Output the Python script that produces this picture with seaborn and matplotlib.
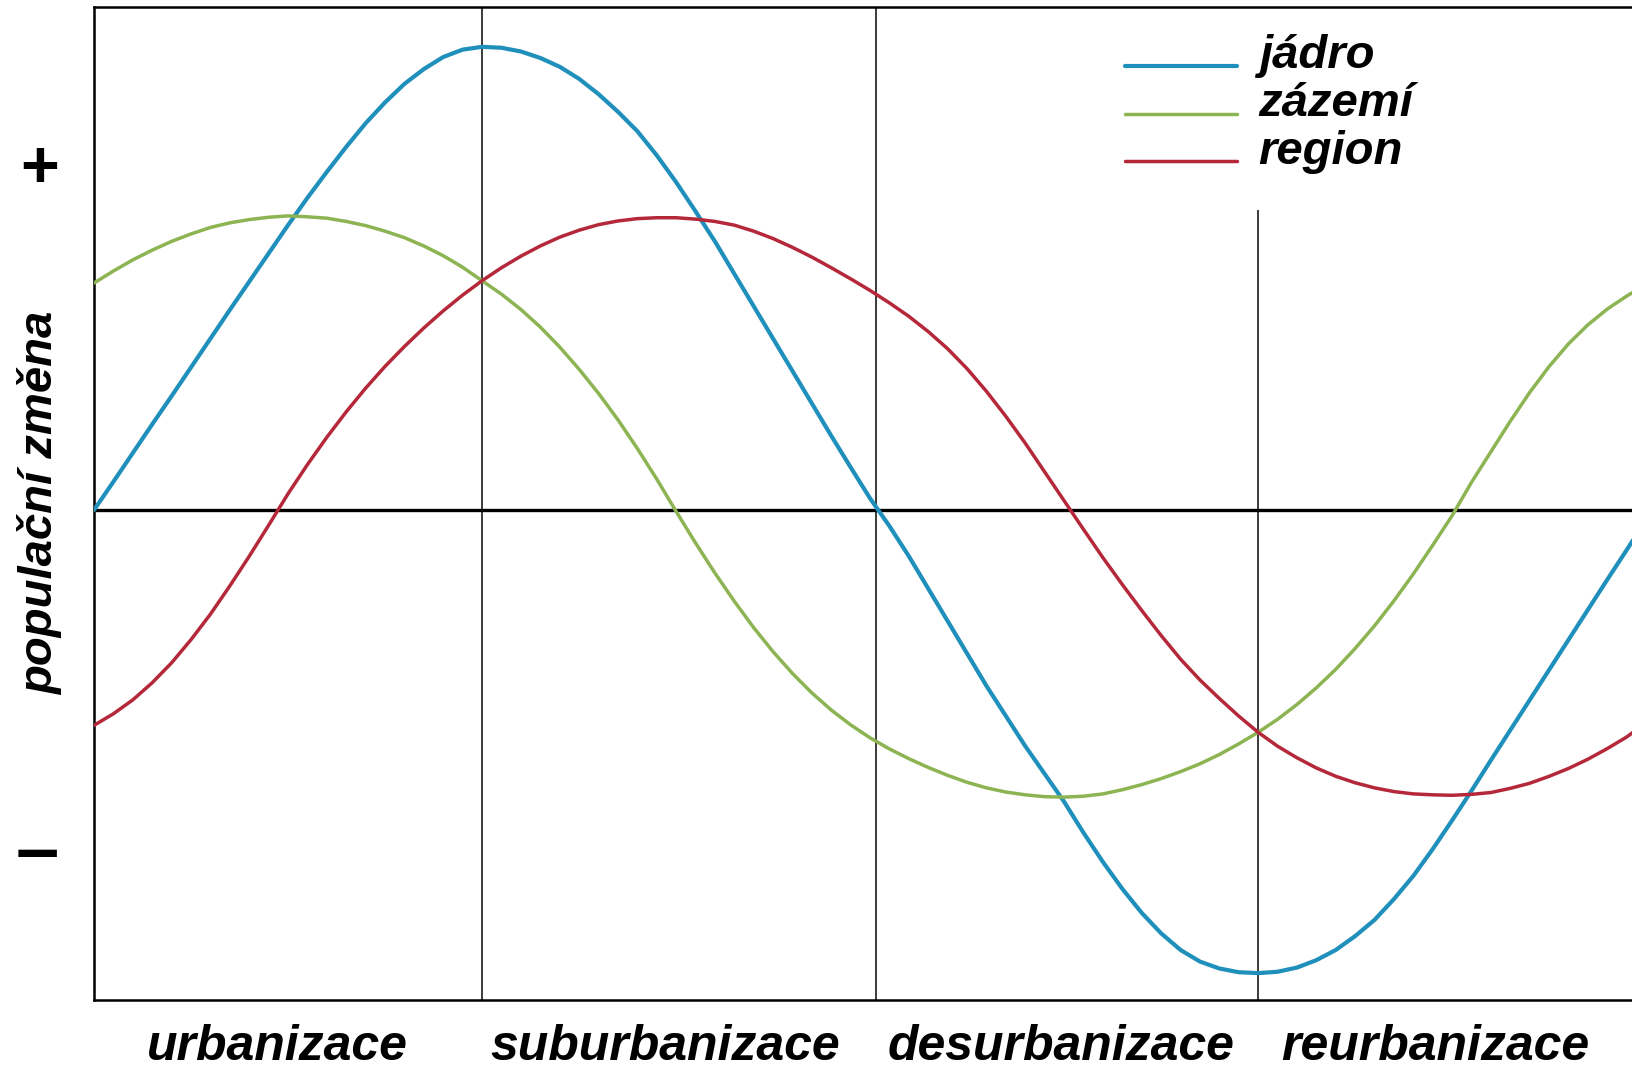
import numpy as np
import pandas as pd
import matplotlib
matplotlib.use("Agg")
import matplotlib.pyplot as plt
import seaborn as sns
from matplotlib.font_manager import FontProperties

# x in "phase" units (left edge = 0, phase boundaries near 1, 2, 3)
x_pos = [0.0, 0.05, 0.1, 0.15, 0.2, 0.25, 0.3, 0.35, 0.4, 0.45,
         0.5, 0.55, 0.6, 0.65, 0.7, 0.75, 0.8, 0.85, 0.9, 0.95,
         1.0, 1.05, 1.1, 1.15, 1.2, 1.25, 1.3, 1.35, 1.4, 1.45,
         1.5, 1.55, 1.6, 1.65, 1.7, 1.75, 1.8, 1.85, 1.9, 1.95,
         2.0, 2.05, 2.1, 2.15, 2.2, 2.25, 2.3, 2.35, 2.4, 2.45,
         2.5, 2.55, 2.6, 2.65, 2.7, 2.75, 2.8, 2.85, 2.9, 2.95,
         3.0, 3.05, 3.1, 3.15, 3.2, 3.25, 3.3, 3.35, 3.4, 3.45,
         3.5, 3.55, 3.6, 3.65, 3.7, 3.75, 3.8, 3.85, 3.9, 3.95, 3.966]

jadro = [0, 6.1, 12.3, 18.5, 24.6, 30.8, 37, 43.2, 49.3, 55.4,
         61.5, 67.4, 73, 78.4, 83.5, 88, 92, 95.2, 97.8, 99.4,
         100, 99.8, 99, 97.6, 95.7, 93.1, 89.8, 86, 81.8, 76.6,
         70.8, 64.5, 58, 51, 44, 37, 30, 23, 16, 9.2,
         2.5, -3.5, -10, -17, -24, -31, -38, -44.5, -51, -57,
         -63, -69.7, -76, -81.8, -87, -91.4, -95, -97.5, -99, -99.8,
         -100, -99.7, -98.8, -97.2, -95, -92, -88.5, -84, -79, -73.2,
         -67, -60.6, -54, -47.5, -41, -34.5, -28, -21.5, -15, -8.6, -6.5]

zazemi = [49, 51.6, 54, 56.1, 58, 59.6, 61, 62, 62.7, 63.2,
          63.5, 63.3, 63, 62.3, 61.4, 60.2, 58.8, 57, 54.9, 52.4,
          49.5, 46.6, 43.3, 39.5, 35.2, 30.4, 25.2, 19.5, 13.3, 6.7,
          -0.3, -7.1, -13.6, -19.7, -25.4, -30.6, -35.3, -39.5, -43.2, -46.4,
          -49.2, -51.6, -53.7, -55.6, -57.3, -58.8, -60, -60.9, -61.5, -61.9,
          -62, -61.8, -61.3, -60.4, -59.3, -58, -56.5, -54.8, -52.8, -50.5,
          -48, -45.2, -42, -38.4, -34.4, -29.9, -25, -19.6, -13.8, -7.6,
          -1.2, 6, 12.6, 19.2, 25.4, 31, 35.9, 40, 43.4, 46.2, 47]

region = [-46.5, -44, -41, -37.3, -33, -28, -22.5, -16.4, -10, -3.3,
          3.5, 9.8, 15.7, 21.2, 26.3, 31, 35.3, 39.3, 43, 46.4,
          49.5, 52.3, 54.8, 57, 58.9, 60.4, 61.6, 62.4, 62.9, 63.1,
          63.1, 62.8, 62.3, 61.5, 60.2, 58.6, 56.7, 54.6, 52.3, 49.9,
          47.4, 44.7, 41.8, 38.5, 34.8, 30.5, 25.6, 20.2, 14.4, 8.2,
          2, -4.2, -10.3, -16.1, -21.7, -27.1, -32.2, -36.7, -40.7, -44.5,
          -48, -51, -53.5, -55.7, -57.5, -58.9, -60, -60.8, -61.3, -61.5,
          -61.6, -61.4, -61, -60.1, -59, -57.5, -55.8, -53.8, -51.5, -49, -48]

series_names = ["jádro", "zázemí", "region"]
series_colors = ["#1f8fbb", "#8db452", "#b4283a"]
series_widths = [3.0, 2.5, 2.5]

phase_bounds = [1.0, 2.015, 3.0]
phase_labels = ["urbanizace", "suburbanizace", "desurbanizace", "reurbanizace"]
phase_label_pos = [0.472, 1.472, 2.492, 3.456]

sign_pos = [75, -72.5]
sign_labels = ["+", "–"]

df = pd.DataFrame({
    "x": x_pos * 3,
    "value": jadro + zazemi + region,
    "series": sum([[n] * len(x_pos) for n in series_names], []),
})

sns.set_style("white")
plt.rcParams["font.family"] = ["Liberation Sans", "DejaVu Sans"]
plt.rcParams["text.color"] = "black"
plt.rcParams["axes.labelcolor"] = "black"
plt.rcParams["xtick.color"] = "black"
plt.rcParams["ytick.color"] = "black"

fig = plt.figure(figsize=(16.33, 10.74), dpi=100)
ax = fig.add_axes([94 / 1633, 74 / 1074, 1 - 94 / 1633, 993 / 1074])

ax.axhline(0, color="black", lw=2.4, zorder=1.5)
ax.axvline(phase_bounds[0], color="#2b2b2b", lw=1.3, zorder=1)
ax.axvline(phase_bounds[1], color="#2b2b2b", lw=1.3, zorder=1)
ax.vlines(phase_bounds[2], -106, 64.8, color="#2b2b2b", lw=1.3, zorder=1)

for name, col, lw in zip(series_names, series_colors, series_widths):
    sns.lineplot(data=df[df["series"] == name], x="x", y="value",
                 color=col, linewidth=lw, label=name, ax=ax, zorder=3)

ax.set_xlim(0, 3.966)
ax.set_ylim(-105.8, 108.6)

for s in ["left", "top", "bottom"]:
    ax.spines[s].set_color("black")
    ax.spines[s].set_linewidth(1.8)
ax.spines["right"].set_visible(False)

ax.set_xticks(phase_label_pos)
ax.set_xticklabels(phase_labels, fontsize=36, fontweight="bold", fontstyle="italic")
ax.tick_params(axis="x", length=0, pad=17)

ax.set_yticks(sign_pos)
ax.set_yticklabels(sign_labels, fontsize=48, fontweight="bold")
ax.get_yticklabels()[1].set_fontsize(56)
ax.tick_params(axis="y", length=0, pad=25)

ax.set_xlabel("")
ax.set_ylabel("populační změna", fontsize=34, fontweight="bold", fontstyle="italic")
ax.yaxis.set_label_coords(-0.020, 0.5)

leg_font = FontProperties(family="Liberation Sans", weight="bold", style="italic", size=34)
leg = ax.legend(loc="upper left", bbox_to_anchor=(1125 / 1633, 0.968),
                bbox_transform=fig.transFigure, frameon=False, prop=leg_font,
                handlelength=2.38, handletextpad=0.45, labelspacing=0.08,
                borderpad=0, borderaxespad=0)
for h in leg.legend_handles:
    h.set_ydata([y - 10 for y in h.get_ydata()])

fig.savefig("out.png", dpi=100)
